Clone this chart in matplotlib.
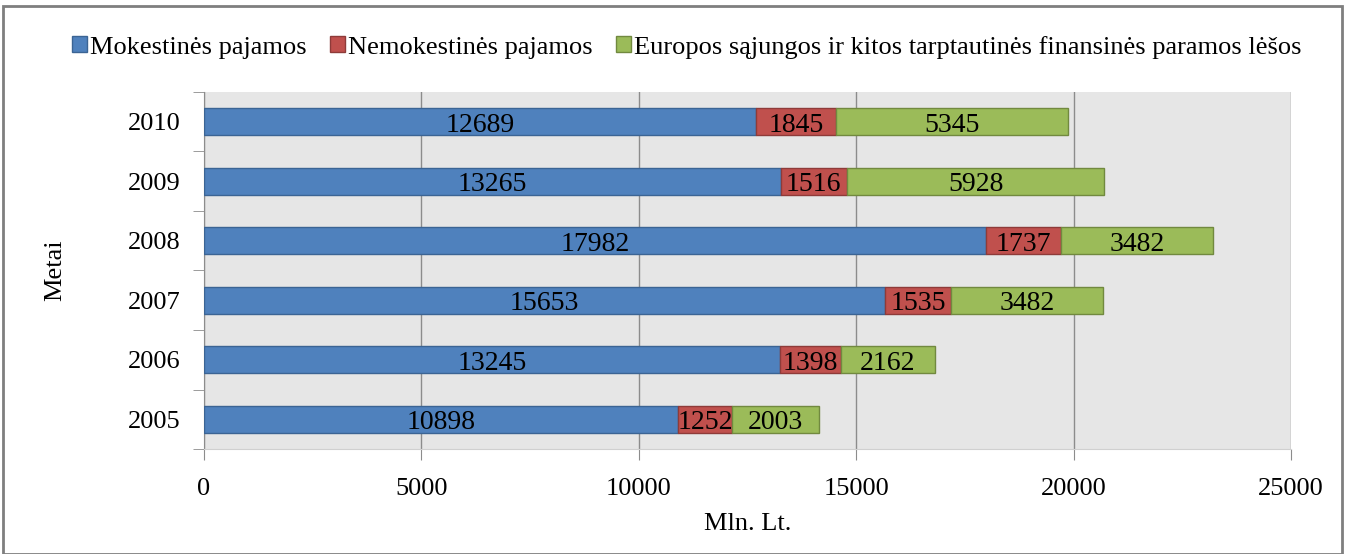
import matplotlib
matplotlib.use("Agg")
import matplotlib.pyplot as plt
from matplotlib.patches import Rectangle
import numpy as np

years = ["2005", "2006", "2007", "2008", "2009", "2010"]
mokestines = [10898, 13245, 15653, 17982, 13265, 12689]
nemokestines = [1252, 1398, 1535, 1737, 1516, 1845]
es_parama = [2003, 2162, 3482, 3482, 5928, 5345]
series_names = [
    "Mokestinės pajamos",
    "Nemokestinės pajamos",
    "Europos sąjungos ir kitos tarptautinės finansinės paramos lėšos",
]
x_ticks = [0, 5000, 10000, 15000, 20000, 25000]

plt.rcParams["font.family"] = ["Liberation Serif", "DejaVu Serif"]

fig = plt.figure(figsize=(13.47, 5.54), dpi=100)
ax = fig.add_axes([0.1514, 0.1895, 0.8070, 0.6445])
ax.set_facecolor("#E6E6E6")

colors = ["#4F81BD", "#C0504D", "#9BBB59"]
edges = ["#3B6494", "#8E3B39", "#71893F"]
ypos = np.arange(len(years))
left = np.zeros(len(years))
handles = []
for vals, name, c, e in zip([mokestines, nemokestines, es_parama], series_names, colors, edges):
    vals = np.array(vals, dtype=float)
    bars = ax.barh(ypos, vals, left=left, height=0.45, color=c, edgecolor=e,
                   linewidth=1.0, label=name, zorder=3)
    handles.append(bars)
    for y, l, v in zip(ypos, left, vals):
        ax.text(l + v / 2, y - 0.06, f"{int(v)}", ha="center", va="center",
                fontsize=20, color="black", zorder=4)
    left += vals

ax.set_xlim(0, 25000)
ax.set_ylim(-0.5, 5.5)
ax.set_xticks(x_ticks)
ax.set_xticklabels([str(t) for t in x_ticks], fontsize=19)
ax.xaxis.grid(True, color="#8C8C8C", linewidth=1.0, zorder=0)
ax.tick_params(axis="x", length=8, color="#8C8C8C", pad=13)

ax.set_yticks(ypos)
ax.set_yticklabels(years, fontsize=19)
ax.set_yticks(np.arange(-0.5, 5.6, 1.0), minor=True)
ax.tick_params(axis="y", which="major", length=0, pad=17)
ax.tick_params(axis="y", which="minor", length=8, color="#8C8C8C")

for side in ["top", "right"]:
    ax.spines[side].set_visible(False)
ax.spines["left"].set_color("#8C8C8C")
ax.spines["bottom"].set_color("#D0D0D0")

ax.set_xlabel("Mln. Lt.", fontsize=19, labelpad=9)
ax.set_ylabel("Metai", fontsize=19, labelpad=44)

fig.legend(handles=handles, labels=series_names, loc="center",
           bbox_to_anchor=(0.510, 0.915), ncol=3, frameon=False, fontsize=19,
           handlelength=0.55, handleheight=0.55, handletextpad=0.12,
           columnspacing=0.9)

fig.patches.append(Rectangle((0.002, 0.0), 0.994, 0.99, transform=fig.transFigure,
                             fill=False, edgecolor="#7F7F7F", linewidth=2.0))

fig.savefig("out.png", dpi=100)
